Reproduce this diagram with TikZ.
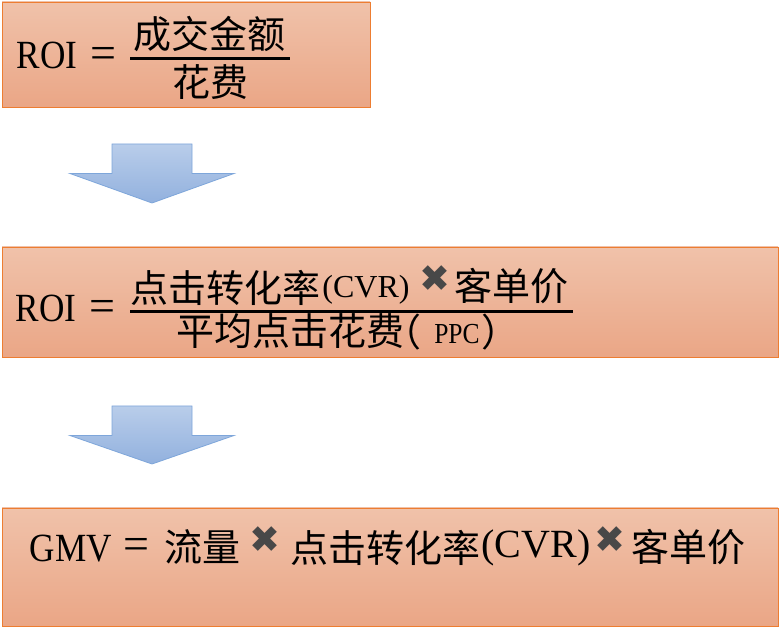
\documentclass[tikz,border=0pt]{standalone}
\usepackage{fontspec}
\setmainfont{Liberation Serif}
\newfontfamily\lat[FakeStretch=0.88]{Liberation Serif}
\newfontfamily\eqf{Liberation Serif}
\newfontfamily\cjk{Noto Sans CJK SC}
\newfontfamily\sym{DejaVu Sans}
\definecolor{boxtop}{RGB}{240,194,170}
\definecolor{boxbot}{RGB}{234,166,134}
\definecolor{boxline}{RGB}{237,125,49}
\definecolor{arrtop}{RGB}{185,205,234}
\definecolor{arrbot}{RGB}{146,177,222}
\definecolor{arrline}{RGB}{126,166,218}
\definecolor{xgray}{RGB}{72,72,72}
\tikzset{
  panel/.style={draw=boxline, line width=0.8pt, top color=boxtop, bottom color=boxbot, inner sep=0pt},
  downarrow/.style={draw=arrline, line width=0.8pt, top color=arrtop, bottom color=arrbot, line join=miter},
  txt/.style={inner sep=0pt, outer sep=0pt, text=black, anchor=center},
  lt/.style={txt, font=\lat\fontsize{40}{40}\selectfont},
  ltw/.style={txt, font=\eqf\fontsize{40}{40}\selectfont},
  lts/.style={txt, font=\eqf\fontsize{32}{32}\selectfont},
  ltp/.style={txt, font=\lat\fontsize{29}{29}\selectfont},
  eq/.style={txt, font=\eqf\fontsize{46}{46}\selectfont},
  ck/.style={txt, font=\cjk\fontsize{38}{40}\selectfont},
  mx/.style={txt, text=xgray, font=\sym\fontsize{37}{37}\selectfont},
  fracbar/.style={line width=3pt, black}
}
\begin{document}
\begin{tikzpicture}[x=1pt,y=-1pt]
\useasboundingbox (0,0) rectangle (780,628);
% panels
\node[panel, minimum width=368pt, minimum height=105pt] (p1) at (186,54.5) {};
\node[panel, minimum width=776pt, minimum height=110pt] (p2) at (390,302) {};
\node[panel, minimum width=776pt, minimum height=118pt] (p3) at (390,567) {};
% arrows
\path[downarrow] (112,144) -- (192,144) -- (192,173.5) -- (234,173.5) -- (152,203)
  -- (70,173.5) -- (112,173.5) -- cycle;
\path[downarrow] (112,406) -- (192,406) -- (192,435.5) -- (234,435.5) -- (152,464)
  -- (70,435.5) -- (112,435.5) -- cycle;
% panel 1
\node[lt] (r1) at (47,55.5) {ROI};
\node[eq] (e1) at (103.5,57.5) {=};
\coordinate (b1l) at (130,58.5);
\coordinate (b1r) at (290,58.5);
\draw[fracbar] (b1l) -- (b1r);
\node[ck] (n1) at (209.5,34) {成交金额};
\node[ck] (d1) at (210.5,82.5) {花费};
% panel 2
\node[lt] (r2) at (46,308.5) {ROI};
\node[eq] (e2) at (102.5,311) {=};
\coordinate (b2l) at (130,311.5);
\coordinate (b2r) at (573,311.5);
\draw[fracbar] (b2l) -- (b2r);
\node[ck] (n2a) at (225,288) {点击转化率};
\node[lts] (n2b) at (366,290) {(CVR)};
\node[mx] (n2c) at (434.5,278.5) {✖};
\node[ck] (n2d) at (511.5,286.5) {客单价};
\node[ck] (d2a) at (290,331) {平均点击花费};
\node[ck] (d2b) at (402,332) {（};
\node[ltp] (d2c) at (457,334) {PPC};
\node[ck] (d2d) at (500,332) {）};
% panel 3
\node[lt] (g3) at (71,548.5) {GMV};
\node[eq] (e3) at (136,549) {=};
\node[ck] (f3) at (202.5,547.5) {流量};
\node[mx] (x3a) at (265,540) {✖};
\node[ck] (c3) at (385,547.5) {点击转化率};
\node[ltw] (v3) at (536,548) {(CVR)};
\node[mx] (x3b) at (610,540) {✖};
\node[ck] (k3) at (688.5,547.5) {客单价};
\end{tikzpicture}
\end{document}
